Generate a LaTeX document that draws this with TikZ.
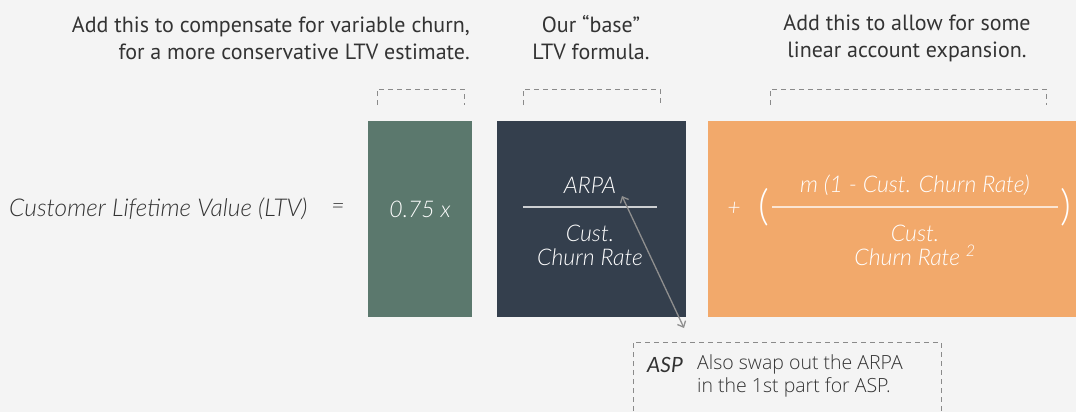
\documentclass[tikz,border=0pt]{standalone}
\usepackage{fontspec}
\setmainfont{PT Sans}
\newfontfamily\formfont{Lato Light}[ItalicFont={Lato Light Italic}]
\newfontfamily\latoreg{Lato}
\newfontfamily\notefont{Open Sans Light}
\usetikzlibrary{arrows.meta}
\definecolor{bg}{HTML}{F4F4F4}
\definecolor{boxgreen}{HTML}{5B786D}
\definecolor{boxdark}{HTML}{343F4D}
\definecolor{boxorange}{HTML}{F2A96B}
\definecolor{txt}{HTML}{333333}
\definecolor{brk}{HTML}{8A8A8A}
\definecolor{arr}{HTML}{8F8F8F}
\tikzset{
  note/.style={text=txt, font=\fontsize{22}{27}\selectfont, inner sep=0pt},
  form/.style={text=white, font=\formfont\itshape\fontsize{23}{24}\selectfont, inner sep=0pt},
  bracket/.style={draw=brk, dashed, dash pattern=on 5pt off 4pt, line width=1pt},
}
\begin{document}
\begin{tikzpicture}[x=1pt,y=-1pt]
\useasboundingbox (0,0) rectangle (1076,412);
\fill[bg] (0,0) rectangle (1076,412);
% top notes
\node[note, anchor=east, align=right] (n1) at (470,38) {Add this to compensate for variable churn,\\for a more conservative LTV estimate.};
\node[note, align=center] (n2) at (591,38) {Our “base”\\LTV formula.};
\node[note, align=center] (n3) at (907,38) {Add this to allow for some\\linear account expansion.};
% brackets
\draw[bracket] (377,105) -- (377,89) -- (464,89) -- (464,105);
\draw[bracket] (523,105) -- (523,89) -- (660,89) -- (660,105);
\draw[bracket] (770,105) -- (770,89) -- (1046,89) -- (1046,105);
% panels
\fill[boxgreen] (368,121) rectangle (472,317);
\fill[boxdark] (497,121) rectangle (686,317);
\fill[boxorange] (708,121) rectangle (1076,317);
% left label
\node[form, text=txt, anchor=west, font=\formfont\itshape\fontsize{24.5}{24}\selectfont] (ltv) at (9,209) {Customer Lifetime Value (LTV)};
\node[form, text=txt] (eq) at (338,209) {=};
% green
\node[form] (k) at (420,209) {0.75 x};
% dark
\node[form] (arpa) at (590,185) {ARPA};
\draw[draw=white!75!boxdark, line width=1.3pt] (523,207) -- (657,207);
\node[form, align=center] (den1) at (590,245) {Cust.\\Churn Rate};
% orange
\node[form] (plus) at (734,209) {+};
\node[form, font=\formfont\fontsize{42}{42}\selectfont] (lp) at (764,207) {(};
\node[form, font=\formfont\fontsize{42}{42}\selectfont] (rp) at (1066,207) {)};
\node[form] (num2) at (915,185) {m (1 - Cust. Churn Rate)};
\draw[draw=white!70!boxorange, line width=1.3pt] (772,207) -- (1058,207);
\node[form, align=center] (den2) at (915,245) {Cust.\\Churn Rate \textsuperscript{2}};
% arrow
\coordinate (a1) at (622,196);
\coordinate (a2) at (684,328);
\draw[arr, line width=1.3pt, {Straight Barb[length=5pt,width=9pt]}-{Straight Barb[length=5pt,width=9pt]}] (a1) -- (a2);
% bottom note
\draw[bracket] (633,420) -- (633,342) -- (941,342) -- (941,420);
\node[text=txt, inner sep=0pt, font=\latoreg\itshape\fontsize{21}{24}\selectfont, anchor=base west] (asp) at (647,372) {ASP};
\node[text=txt, inner sep=0pt, anchor=north west, align=left, font=\notefont\fontsize{19.5}{23}\selectfont] (aspt) at (697,354) {Also swap out the ARPA\\in the 1st part for ASP.};
\end{tikzpicture}
\end{document}
